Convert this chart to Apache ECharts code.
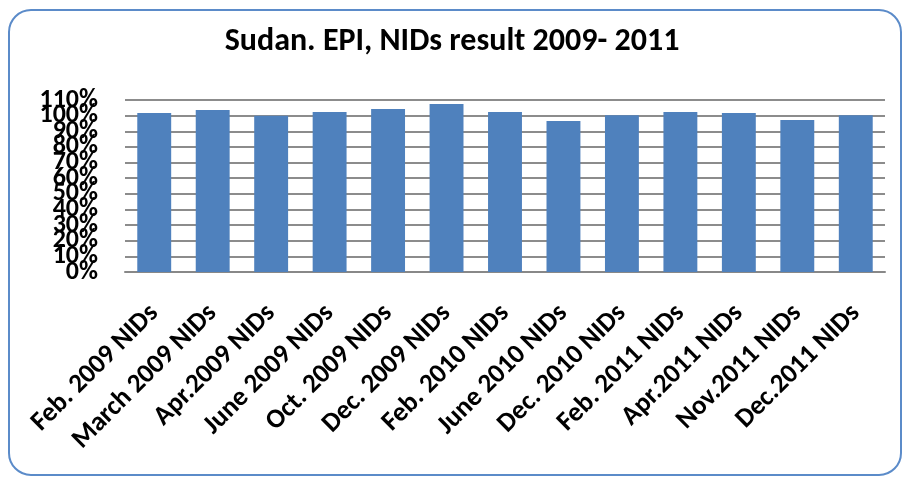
<!DOCTYPE html>
<html>
<head>
<meta charset="utf-8">
<script src="https://cdn.jsdelivr.net/npm/echarts@6/dist/echarts.min.js"></script>
<style>
  html, body { margin: 0; padding: 0; background: #fff; }
  #main { width: 904px; height: 479px; }
</style>
</head>
<body>
<div id="main"></div>
<script>
let campaigns = ['Feb. 2009 NIDs', 'March 2009 NIDs', 'Apr.2009 NIDs', 'June 2009 NIDs',
    'Oct. 2009 NIDs', 'Dec. 2009 NIDs', 'Feb. 2010 NIDs', 'June 2010 NIDs',
    'Dec. 2010 NIDs', 'Feb. 2011 NIDs', 'Apr.2011 NIDs', 'Nov.2011 NIDs', 'Dec.2011 NIDs'];
let coverage = [101.7, 103.6, 100, 102.4, 104.3, 107.5, 102.4, 96.6, 100.2, 102.4, 101.7, 97.2, 100.2];
let yTicks = [0, 110, 10]; // min, max, step (%)

let font = 'Carlito, "Liberation Sans Narrow", "Noto Sans", sans-serif';
let myChart = echarts.init(document.getElementById('main'));

// the % labels overlap in the original, so even and odd ones go on two stacked axes
function yAxisFor(odd) {
    return {
        type: 'value',
        position: 'left',
        min: yTicks[0],
        max: yTicks[1],
        interval: yTicks[2],
        axisLine: { show: false },
        axisTick: { show: false },
        splitLine: { show: !odd, lineStyle: { color: '#8c8c8c', width: 2 } },
        axisLabel: {
            formatter: v => ((v / yTicks[2]) % 2 === (odd ? 1 : 0)) ? v + '%' : '',
            margin: 27,
            showMinLabel: true,
            showMaxLabel: true,
            fontFamily: font,
            fontSize: 26,
            fontWeight: 'bold',
            color: '#000'
        }
    };
}

myChart.setOption({
    title: {
        text: 'Sudan. EPI, NIDs result 2009- 2011',
        left: 'center',
        top: 21,
        textStyle: { fontFamily: font, fontSize: 32, fontWeight: 'bold', color: '#000' }
    },
    graphic: [{
        type: 'rect',
        shape: { x: 9, y: 10, width: 892, height: 465, r: 22 },
        style: { fill: 'none', stroke: '#5b8bc9', lineWidth: 2 },
        silent: true
    }],
    grid: { left: 125, right: 19, top: 100, bottom: 207 },
    xAxis: {
        type: 'category',
        data: campaigns,
        axisTick: { show: false },
        axisLine: { lineStyle: { color: '#888', width: 2 } },
        axisLabel: {
            rotate: 45,
            interval: 0,
            margin: 37,
            fontFamily: font,
            fontSize: 27,
            fontWeight: 'bold',
            color: '#000'
        }
    },
    yAxis: [yAxisFor(false), yAxisFor(true)],
    series: [{
        type: 'bar',
        data: coverage,
        barWidth: '58%',
        itemStyle: { color: '#4f81bd' }
    }]
});
</script>
</body>
</html>
